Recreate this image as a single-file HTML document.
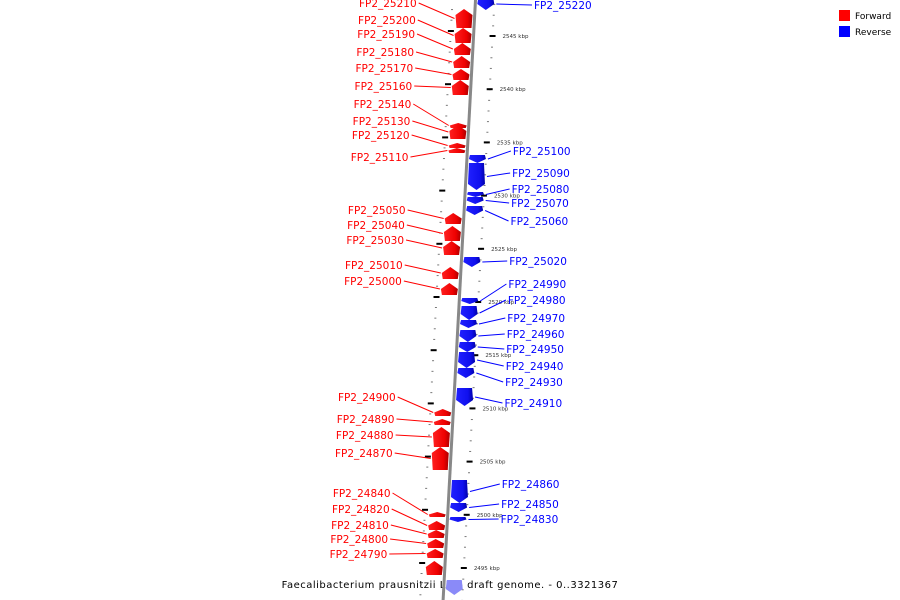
<!DOCTYPE html>
<html><head><meta charset="utf-8"><style>
body{margin:0;background:#fff}
svg{display:block}
text{font-family:"DejaVu Sans","Liberation Sans",sans-serif}
</style></head><body>
<svg id="c" width="900" height="600" xmlns="http://www.w3.org/2000/svg">
<defs>
<linearGradient id="gr" x1="0" x2="1"><stop offset="0" stop-color="#ff2020"/><stop offset="0.7" stop-color="#ee0000"/><stop offset="1" stop-color="#aa0000"/></linearGradient>
<linearGradient id="gb" x1="0" x2="1"><stop offset="0" stop-color="#2020ff"/><stop offset="0.7" stop-color="#1010ee"/><stop offset="1" stop-color="#0000aa"/></linearGradient>
</defs>
<g>
<rect x="839" y="10" width="11" height="11" fill="#f00"/>
<text x="855" y="19" font-size="9">Forward</text>
<rect x="839" y="26" width="11" height="11" fill="#00f"/>
<text x="855" y="35" font-size="9">Reverse</text>
</g>
<text x="450" y="588" font-size="10" text-anchor="middle" letter-spacing="0.5">Faecalibacterium prausnitzii L2/6 draft genome. - 0..3321367</text>
</svg>
<script>
// data
const fwdNames=["FP2_25210","FP2_25200","FP2_25190","FP2_25180","FP2_25170","FP2_25160","FP2_25140","FP2_25130","FP2_25120","FP2_25110","FP2_25050","FP2_25040","FP2_25030","FP2_25010","FP2_25000","FP2_24900","FP2_24890","FP2_24880","FP2_24870","FP2_24840","FP2_24820","FP2_24810","FP2_24800","FP2_24790",""];
const fwdTop=[9,28,43,56,69,80,123,125,143,148,213,226,241,267,283,409,419,427,447,512,521,530,539,549,561];
const fwdBot=[28,43,55,68,80,95,128,139,148,153,224,241,255,279,295,416,425,447,470,517,530,538,548,558,575];
const fwdLabelY=[6,23,37,55,71,89,107,124,138,160,213,228,243,268,284,400,422,438,456,496,512,528,542,557,0];
const revNames=["FP2_25220","FP2_25100","FP2_25090","FP2_25080","FP2_25070","FP2_25060","FP2_25020","FP2_24990","FP2_24980","FP2_24970","FP2_24960","FP2_24950","FP2_24940","FP2_24930","FP2_24910","FP2_24860","FP2_24850","FP2_24830",""];
const revTop=[-2,155,163,192,197,206,257,298,306,320,330,342,352,368,388,480,503,517,580];
const revBot=[10,163,190,197,204,215,267,304,320,328,342,352,368,378,406,503,512,522,595];
const revLabelY=[8,154,176,192,206,224,264,287,303,321,337,352,369,385,406,487,507,522,0];
const tickKbp=[2545,2540,2535,2530,2525,2520,2515,2510,2505,2500,2495];

const svg=document.getElementById('c');
const NS='http://www.w3.org/2000/svg';
function lineX(y){return 475.5-y*0.054;}
function yOf(k){return 36+(2545-k)*10.64;}
function mk(t,a){const e=document.createElementNS(NS,t);for(const k in a)e.setAttribute(k,a[k]);svg.appendChild(e);return e;}

// axis
const ax=mk('line',{x1:lineX(-5),y1:-5,x2:lineX(605),y2:605,stroke:'#888','stroke-width':3});


// small dots
for(let k=2480;k<=2549;k++){const y=yOf(k);if(y<0||y>600)continue;
 const d1=mk('rect',{x:lineX(y)+18,y:y,width:2,height:1,fill:'#777'});
 
 
 const y2=y+5;
 const d2=mk('rect',{x:lineX(y2)-24,y:y2,width:2,height:1,fill:'#777'});
 
 
}
tickKbp.forEach(k=>{const y=yOf(k);const x=lineX(y)+18;
 const t=mk('rect',{x:x-2,y:y-1,width:6,height:2,fill:'#000'});
 
 
 const l=mk('text',{x:x+11,y:y+2,'font-size':5.5,fill:'#333'});l.textContent=k+' kbp';
 
 
 const y2=y-53.2*0.0+(-6);const t2=mk('rect',{x:lineX(y2)-26,y:y2,width:6,height:2,fill:'#000'});
 
 
});
// forward genes
fwdNames.forEach((n,i)=>{const t=fwdTop[i],b=fwdBot[i],m=(t+b)/2;const xr=lineX(m)-3,xl=xr-15;const h=Math.min(6,(b-t)/2);
 const p=mk('polygon',{points:`${(xl+xr)/2},${t} ${xr+1},${t+h} ${xr},${b} ${xl},${b} ${xl-1},${t+h}`,fill:'url(#gr)'});
 
 
 if(!n)return;const ly=fwdLabelY[i];const lx=417-(ly/600)*32;
 const ln=mk('line',{x1:lx+2,y1:ly-3,x2:xl-2,y2:m,stroke:'#f00','stroke-width':1});
 
 
 const tx=mk('text',{x:lx,y:ly+1,'font-size':10.5,fill:'#f00','text-anchor':'end'});tx.textContent=n;
 
 
});
// reverse genes
revNames.forEach((n,i)=>{const t=revTop[i],b=revBot[i],m=(t+b)/2;const xl=lineX(m)+3,xr=xl+15;const h=Math.min(6,(b-t)/2);
 const p=mk('polygon',{points:`${xl},${t} ${xr},${t} ${xr+1},${b-h} ${(xl+xr)/2},${b} ${xl-1},${b-h}`,fill:n?'url(#gb)':'#8a8af8'});
 
 
 if(!n)return;const ly=revLabelY[i];const lx=i==0?534:518-(ly/600)*20;
 const ln=mk('line',{x1:lx-2,y1:ly-3,x2:xr+3,y2:Math.max(m,2),stroke:'#00f','stroke-width':1});
 
 
 const tx=mk('text',{x:lx,y:ly+1,'font-size':10.5,fill:'#00f'});tx.textContent=n;
 
 
});
</script>
</body></html>
